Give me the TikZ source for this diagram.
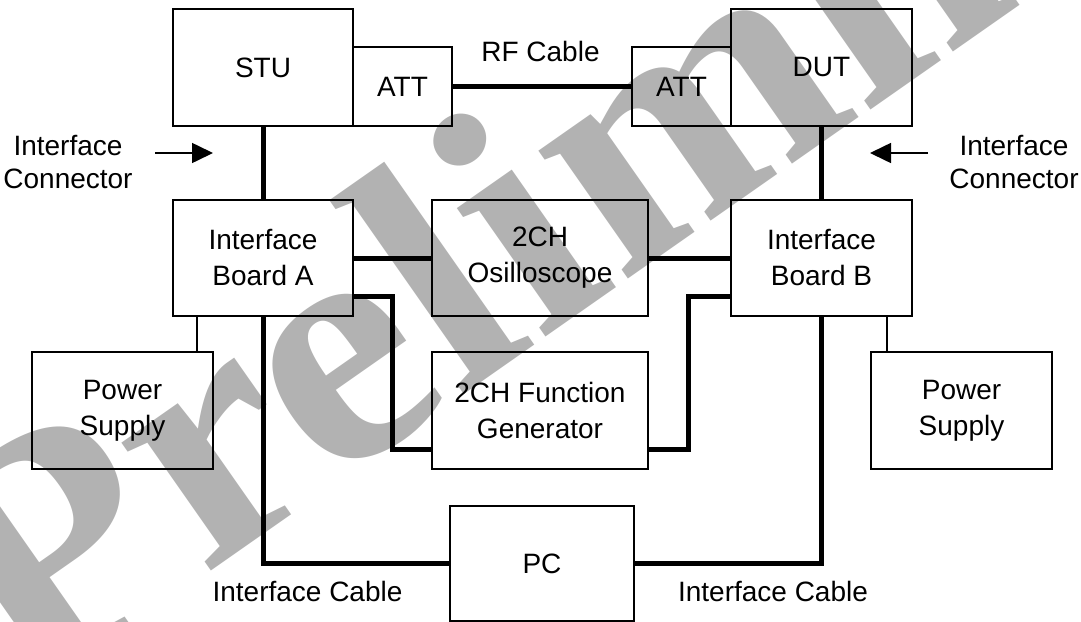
\documentclass[tikz,border=0pt]{standalone}
\usepackage{fontspec}
\setmainfont{Liberation Sans}
\newfontfamily\wmfont{Liberation Serif}
\usetikzlibrary{arrows.meta,calc}
\begin{document}
\begin{tikzpicture}[x=1pt,y=-1pt,
  box/.style={draw, line width=1.6pt, inner sep=0pt, align=center,
    font=\fontsize{28}{36}\selectfont},
  lbl/.style={inner sep=0pt, align=center, font=\fontsize{28}{33}\selectfont},
  cable/.style={line width=5pt},
  pwr/.style={line width=1.5pt},
  conarrow/.style={line width=1.6pt, -{Triangle[length=21pt,width=20pt]}},
  wm/.style={text=black!30, inner sep=0pt, font=\fontsize{340}{340}\wmfont\bfseries}]
\useasboundingbox (0,0) rectangle (1081,621);
\clip (0,0) rectangle (1081,621);
% watermark
\node[wm, anchor=base west, rotate=35, xscale=1.05] (wmk) at (25,702) {Preliminary};
% boxes
\node[box, minimum width=180pt, minimum height=117pt] (stu) at (263,67.5) {STU};
\node[box, minimum width=99pt, minimum height=79pt] (att1) at (402.5,86.5) {ATT};
\node[box, minimum width=99pt, minimum height=79pt] (att2) at (681.5,86.5) {ATT};
\node[box, minimum width=181pt, minimum height=117pt] (dut) at (821.5,67.5) {DUT};
\node[box, minimum width=180pt, minimum height=116pt] (ba) at (263,258) {Interface\\Board A};
\node[box, minimum width=216pt, minimum height=116pt] (osc) at (540,258) {2CH\\Osilloscope};
\node[box, minimum width=181pt, minimum height=116pt] (bb) at (821.5,258) {Interface\\Board B};
\node[box, minimum width=216pt, minimum height=117pt] (fg) at (540,410.5) {2CH Function\\Generator};
\node[box, minimum width=181pt, minimum height=117pt] (psl) at (122.5,410.5) {Power\\Supply};
\node[box, minimum width=181pt, minimum height=117pt] (psr) at (961.5,410.5) {Power\\Supply};
\node[box, minimum width=184pt, minimum height=115pt] (pc) at (542,563.5) {PC};
% labels
\node[lbl] (rf) at (540.5,51.5) {RF Cable};
\node[lbl] (icl) at (68,162) {Interface\\Connector};
\node[lbl] (icr) at (1014,162) {Interface\\Connector};
\node[lbl] (cbl) at (307.5,591.5) {Interface Cable};
\node[lbl] (cbr) at (773,591.5) {Interface Cable};
% connectors
\draw[cable] (att1.east) -- (att2.west);
\draw[cable] (stu.south) -- (ba.north);
\draw[cable] (dut.south) -- (bb.north);
\draw[cable] (ba.east) -- (osc.west);
\draw[cable] (osc.east) -- (bb.west);
\draw[cable] ($(ba.east)+(0,38)$) -- ++(39,0) |- ($(fg.west)+(0,38.5)$);
\draw[cable] ($(bb.west)+(0,38)$) -- ++(-42,0) |- ($(fg.east)+(0,38.5)$);
\draw[cable] (ba.south) |- (pc.west);
\draw[cable] (bb.south) |- (pc.east);
\draw[pwr] ($(psl.north)+(74.5,0)$) coordinate (p1) -- (p1 |- ba.south);
\draw[pwr] ($(psr.north)+(-74.5,0)$) coordinate (p2) -- (p2 |- bb.south);
% interface connector arrows
\coordinate (al1) at (155,153);
\coordinate (al2) at (213,153);
\coordinate (ar1) at (928,153);
\coordinate (ar2) at (870,153);
\draw[conarrow] (al1) -- (al2);
\draw[conarrow] (ar1) -- (ar2);
\end{tikzpicture}
\end{document}
